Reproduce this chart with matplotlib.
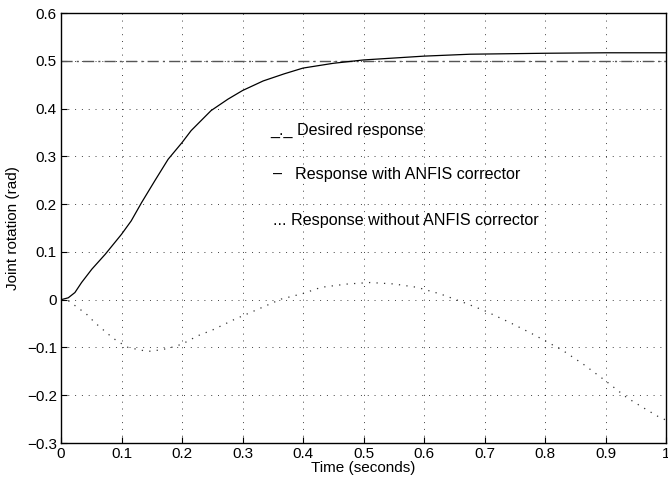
import numpy as np
import matplotlib.pyplot as plt

plt.rcParams['font.family'] = ['Liberation Sans', 'DejaVu Sans']

# response with ANFIS corrector
t_with = [0, 0.012, 0.023, 0.034, 0.051, 0.073, 0.1, 0.116, 0.133, 0.155, 0.177,
          0.2, 0.215, 0.248, 0.276, 0.3, 0.334, 0.369, 0.4, 0.45, 0.5, 0.6,
          0.676, 0.8, 0.9, 1.0]
y_with = [0, 0.004, 0.015, 0.036, 0.064, 0.095, 0.137, 0.165, 0.203, 0.249, 0.294,
          0.329, 0.354, 0.396, 0.42, 0.438, 0.458, 0.473, 0.485, 0.495, 0.502, 0.51,
          0.514, 0.516, 0.517, 0.517]

# response without ANFIS corrector
t_without = [0, 0.012, 0.026, 0.042, 0.056, 0.078, 0.092, 0.111, 0.138, 0.149, 0.177,
             0.2, 0.226, 0.251, 0.287, 0.32, 0.364, 0.4, 0.43, 0.474, 0.511, 0.55,
             0.588, 0.627, 0.665, 0.7, 0.742, 0.775, 0.8, 0.83, 0.863, 0.9, 0.935,
             0.962, 0.99, 1.0]
y_without = [0, -0.002, -0.015, -0.03, -0.048, -0.072, -0.086, -0.1, -0.107, -0.108,
             -0.102, -0.093, -0.0755, -0.063, -0.041, -0.023, 0.0014, 0.013, 0.026,
             0.033, 0.036, 0.033, 0.026, 0.012, -0.0056, -0.023, -0.048, -0.069,
             -0.086, -0.107, -0.135, -0.17, -0.205, -0.226, -0.247, -0.252]

desired = 0.5

fig = plt.figure(figsize=(6.68, 4.83), dpi=100)
ax = fig.add_axes([0.0913, 0.0828, 0.906, 0.89])

ax.axhline(desired, color='#555555', linestyle=(0, (8, 3, 1.5, 3)), linewidth=1.0)
ax.plot(t_with, y_with, color='black', linewidth=0.9)
ax.plot(t_without, y_without, color='#333333', linestyle=(0, (1, 5)), linewidth=0.9)

ax.set_xlim(0, 1)
ax.set_ylim(-0.3, 0.6)
ax.set_xticks(np.arange(0, 1.01, 0.1))
ax.set_yticks(np.arange(-0.3, 0.61, 0.1))
ax.set_xticklabels(['0', '0.1', '0.2', '0.3', '0.4', '0.5', '0.6', '0.7', '0.8', '0.9', '1'])
ax.set_yticklabels(['\u22120.3', '\u22120.2', '\u22120.1', '0', '0.1', '0.2', '0.3', '0.4', '0.5', '0.6'])
ax.tick_params(direction='in', labelsize=11, length=4, pad=3)
ax.grid(True, color='black', linestyle=(0, (1, 6)), linewidth=0.7, alpha=0.75)
for s in ax.spines.values():
    s.set_linewidth(1.0)

ax.set_xlabel('Time (seconds)', fontsize=11, labelpad=0)
ax.set_ylabel('Joint rotation (rad)', fontsize=11, labelpad=5)

ax.text(0.345, 0.354, '_._ Desired response', fontsize=11.6, va='center')
ax.text(0.350, 0.262, '\u2013', fontsize=11.6, va='center')
ax.text(0.387, 0.262, 'Response with ANFIS corrector', fontsize=11.6, va='center')
ax.text(0.350, 0.165, '... Response without ANFIS corrector', fontsize=11.6, va='center')

fig.savefig('out.png', dpi=100)
